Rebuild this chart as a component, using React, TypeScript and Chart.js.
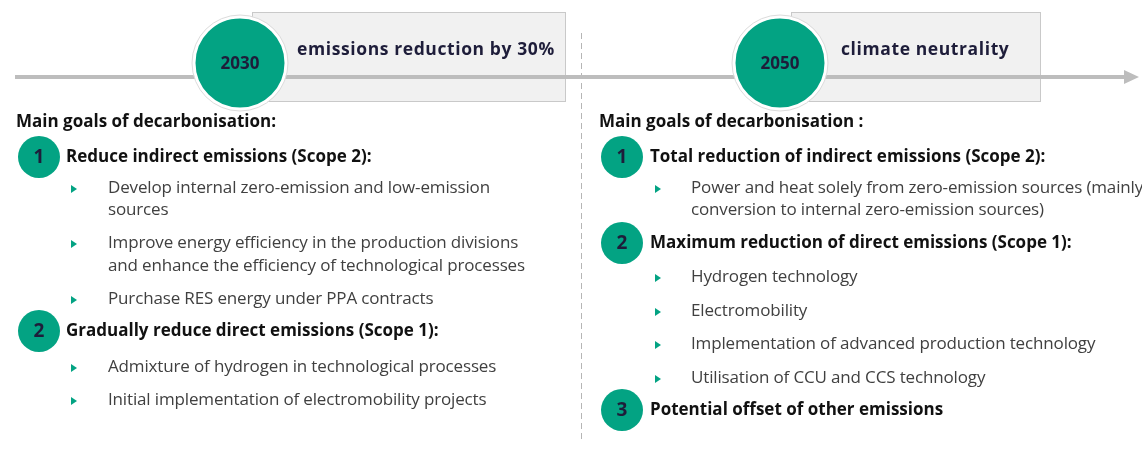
import React, { useEffect, useRef } from "react";
import { Chart, registerables } from "chart.js";

Chart.register(...registerables);

// ---- data ----
const milestoneYears = ["2030", "2050"];
const milestoneLabels = ["emissions reduction by 30%", "climate neutrality"];
const columnTitles = ["Main goals of decarbonisation:", "Main goals of decarbonisation :"];
const leftGoals = ["Reduce indirect emissions (Scope 2):", "Gradually reduce direct emissions (Scope 1):"];
const leftBullets = [
  [
    ["Develop internal zero-emission and low-emission", "sources"],
    ["Improve energy efficiency in the production divisions", "and enhance the efficiency of technological processes"],
    ["Purchase RES energy under PPA contracts"],
  ],
  [
    ["Admixture of hydrogen in technological processes"],
    ["Initial implementation of electromobility projects"],
  ],
];
const rightGoals = [
  "Total reduction of indirect emissions (Scope 2):",
  "Maximum reduction of direct emissions (Scope 1):",
  "Potential offset of other emissions",
];
const rightBullets = [
  [["Power and heat solely from zero-emission sources (mainly", "conversion to internal zero-emission sources)"]],
  [
    ["Hydrogen technology"],
    ["Electromobility"],
    ["Implementation of advanced production technology"],
    ["Utilisation of CCU and CCS technology"],
  ],
  [],
];

// ---- layout (positions / sizes / styles) ----
const W = 1142;
const H = 461;
const TEAL = "#03a383";
const NAVY = "#1e1d3a";
const milestoneX = [240, 780];
const milestoneY = 63;
const milestoneR = 46;
const boxes = [
  { x0: 252, x1: 565 },
  { x0: 791, x1: 1040 },
];
const boxTop = 12;
const boxBottom = 101;
const timelineY = 77;
const columnX = [16, 599];
const goalCircleX = [39, 622];
const goalTextX = [66, 650];
const bulletMarkX = [71, 655];
const bulletTextX = [108, 691];
const titleY = 122;
const leftGoalY = [157, 331];
const leftLineY = [[[188, 210], [243, 266], [299]], [[367], [400]]];
const rightGoalY = [157, 243, 410];
const rightLineY = [[[188, 210]], [[277], [311], [344], [378]], []];

const BODY_FONT = "17px 'Open Sans'";
const BOLD_FONT = "bold 17px 'Open Sans'";

export default function App() {
  const ref = useRef<HTMLCanvasElement | null>(null);
  useEffect(() => {
    document.body.style.margin = "0";
    const canvas = ref.current;
    if (!canvas) return;

    const goalPoints: { x: number; y: number; r: number; label: string }[] = [];
    leftGoals.forEach((_, i) => goalPoints.push({ x: goalCircleX[0], y: leftGoalY[i], r: 21, label: String(i + 1) }));
    rightGoals.forEach((_, i) => goalPoints.push({ x: goalCircleX[1], y: rightGoalY[i], r: 21, label: String(i + 1) }));

    const overlay = {
      id: "overlay",
      beforeDatasetsDraw(chart: any) {
        const { ctx, scales } = chart;
        const sx = (v: number) => scales.x.getPixelForValue(v);
        const sy = (v: number) => scales.y.getPixelForValue(v);
        ctx.save();
        ctx.fillStyle = "#ffffff";
        ctx.fillRect(0, 0, W, H);
        boxes.forEach((b) => {
          ctx.fillStyle = "#f1f1f1";
          ctx.fillRect(sx(b.x0), sy(boxTop), sx(b.x1) - sx(b.x0), sy(boxBottom) - sy(boxTop));
          ctx.strokeStyle = "#c9c9c9";
          ctx.lineWidth = 1;
          ctx.strokeRect(sx(b.x0) + 0.5, sy(boxTop) + 0.5, sx(b.x1) - sx(b.x0), sy(boxBottom) - sy(boxTop));
        });
        ctx.strokeStyle = "#b5b5b5";
        ctx.setLineDash([6, 4]);
        ctx.beginPath();
        ctx.moveTo(sx(581) + 0.5, sy(33));
        ctx.lineTo(sx(581) + 0.5, sy(442));
        ctx.stroke();
        ctx.setLineDash([]);
        ctx.fillStyle = "#bdbdbd";
        ctx.beginPath();
        ctx.moveTo(sx(1124), sy(timelineY - 7));
        ctx.lineTo(sx(1139), sy(timelineY));
        ctx.lineTo(sx(1124), sy(timelineY + 7));
        ctx.closePath();
        ctx.fill();
        ctx.restore();
      },
      afterDatasetsDraw(chart: any) {
        const { ctx, scales } = chart;
        const sx = (v: number) => scales.x.getPixelForValue(v);
        const sy = (v: number) => scales.y.getPixelForValue(v);
        ctx.save();
        ctx.textBaseline = "middle";
        milestoneYears.forEach((yr, i) => {
          // faint outer ring
          ctx.strokeStyle = "#dcdcdc";
          ctx.lineWidth = 1;
          ctx.beginPath();
          ctx.arc(sx(milestoneX[i]), sy(milestoneY), milestoneR + 2, 0, Math.PI * 2);
          ctx.stroke();
          ctx.font = "bold 17px 'Open Sans'";
          ctx.fillStyle = NAVY;
          ctx.textAlign = "center";
          ctx.fillText(yr, sx(milestoneX[i]), sy(milestoneY + 1));
          ctx.textAlign = "left";
          ctx.font = "bold 17.5px 'Open Sans'";
          (ctx as any).letterSpacing = "0.6px";
          ctx.fillText(milestoneLabels[i], sx(boxes[i].x0 + (i === 0 ? 45 : 50)), sy(50));
          (ctx as any).letterSpacing = "0px";
        });
        goalPoints.forEach((p) => {
          ctx.font = "bold 19px 'Open Sans'";
          ctx.fillStyle = NAVY;
          ctx.textAlign = "center";
          ctx.fillText(p.label, sx(p.x), sy(p.y + 1));
        });
        ctx.textAlign = "left";
        columnTitles.forEach((t, i) => {
          ctx.font = BOLD_FONT;
          ctx.fillStyle = "#111111";
          ctx.fillText(t, sx(columnX[i]), sy(titleY));
        });
        const drawCol = (goals: string[], bullets: string[][][], goalY: number[], lineY: number[][][], c: number) => {
          goals.forEach((g, gi) => {
            ctx.font = BOLD_FONT;
            ctx.fillStyle = "#111111";
            ctx.fillText(g, sx(goalTextX[c]), sy(goalY[gi]));
            bullets[gi].forEach((lines, bi) => {
              const ys = lineY[gi][bi];
              ctx.fillStyle = TEAL;
              const ty = sy(ys[0] + 1);
              const tx = sx(bulletMarkX[c]);
              ctx.beginPath();
              ctx.moveTo(tx, ty - 4);
              ctx.lineTo(tx + 6, ty);
              ctx.lineTo(tx, ty + 4);
              ctx.closePath();
              ctx.fill();
              ctx.font = BODY_FONT;
              ctx.fillStyle = "#404040";
              (ctx as any).letterSpacing = "-0.15px";
              lines.forEach((ln, li) => ctx.fillText(ln, sx(bulletTextX[c]), sy(ys[li])));
              (ctx as any).letterSpacing = "0px";
            });
          });
        };
        drawCol(leftGoals, leftBullets, leftGoalY, leftLineY, 0);
        drawCol(rightGoals, rightBullets, rightGoalY, rightLineY, 1);
        ctx.restore();
      },
    };

    const chart = new Chart(canvas, {
      type: "bubble",
      data: {
        datasets: [
          {
            type: "line" as any,
            data: [
              { x: 15, y: timelineY },
              { x: 1126, y: timelineY },
            ],
            borderColor: "#bdbdbd",
            borderWidth: 4,
            pointRadius: 0,
            order: 3,
          } as any,
          {
            data: milestoneYears.map((_, i) => ({ x: milestoneX[i], y: milestoneY, r: milestoneR })),
            backgroundColor: TEAL,
            borderColor: "#ffffff",
            borderWidth: 3,
            order: 2,
          },
          {
            data: goalPoints.map((p) => ({ x: p.x, y: p.y, r: p.r })),
            backgroundColor: TEAL,
            borderColor: TEAL,
            borderWidth: 0,
            order: 1,
          },
        ],
      },
      options: {
        responsive: false,
        animation: false,
        events: [],
        layout: { padding: 0, autoPadding: false } as any,
        clip: false as any,
        plugins: { legend: { display: false }, tooltip: { enabled: false } },
        scales: {
          x: { type: "linear", min: 0, max: W, display: false },
          y: { type: "linear", min: 0, max: H, reverse: true, display: false },
        },
      },
      plugins: [overlay],
    });
    return () => chart.destroy();
  }, []);
  return <canvas ref={ref} width={W} height={H} style={{ display: "block" }} />;
}
